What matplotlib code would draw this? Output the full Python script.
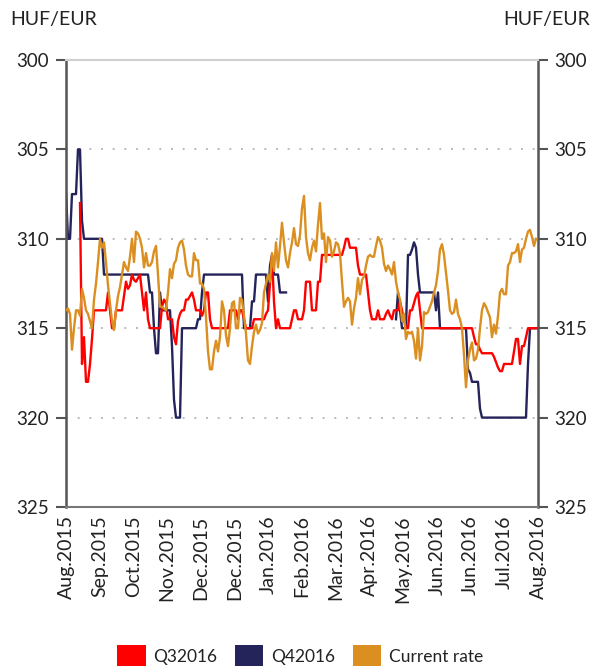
import numpy as np
import matplotlib
matplotlib.use("Agg")
import matplotlib.pyplot as plt
from matplotlib.patches import Patch

# ---- data (HUF/EUR) ----
tick_labels = ["Aug.2015", "Sep.2015", "Oct.2015", "Nov.2015", "Dec.2015", "Dec.2015",
               "Jan.2016", "Feb.2016", "Mar.2016", "Apr.2016", "May.2016", "Jun.2016",
               "Jun.2016", "Jul.2016", "Aug.2016"]

current_rate = [
    314.0, 313.9, 314.2, 316.2, 315.0, 314.0, 314.0, 314.3, 312.8, 313.3,
    314.0, 314.2, 314.6, 315.0, 313.4, 312.5, 311.3, 310.0, 310.5, 310.2,
    311.3, 312.6, 313.6, 314.6, 315.1, 314.0, 313.2, 312.7, 312.0, 311.3,
    311.6, 311.8, 311.0, 310.0, 311.3, 309.6, 309.7, 310.0, 310.5, 311.6,
    310.8, 311.5, 311.5, 311.3, 310.7, 310.4, 312.0, 313.8, 313.8, 313.9,
    314.0, 313.0, 311.7, 312.2, 311.4, 311.2, 310.5, 310.2, 310.1, 310.6,
    311.5, 312.0, 312.1, 312.1, 310.8, 311.2, 311.2, 312.5, 312.5, 312.8,
    314.4, 316.3, 317.3, 317.3, 316.3, 315.7, 316.3, 315.5, 313.5, 314.0,
    315.4, 316.0, 315.0, 313.6, 313.5, 315.0, 315.0, 313.3, 313.4, 314.3,
    315.3, 316.8, 317.0, 316.0, 315.2, 314.8, 315.3, 315.1, 314.7, 313.0,
    312.5, 312.0, 312.4, 310.8, 311.8, 310.2, 311.6, 310.4, 309.1, 310.2,
    311.2, 311.6, 310.8, 310.2, 309.4, 310.3, 310.4, 309.8, 308.3, 307.6,
    309.9, 310.8, 311.2, 310.5, 310.1, 310.7, 309.2, 308.0, 310.0, 309.7,
    311.3, 309.9, 310.1, 311.0, 310.7, 310.2, 310.3, 310.8, 312.4, 313.8,
    313.5, 313.3, 313.5, 314.8, 313.9, 313.3, 312.2, 313.1, 312.3, 312.1,
    311.5, 311.0, 310.9, 311.0, 311.0, 310.4, 309.9, 310.1, 310.5, 311.4,
    311.8, 311.5, 311.7, 312.0, 311.3, 312.4, 313.0, 313.4, 314.6, 314.2,
    315.6, 315.2, 315.3, 315.2, 315.7, 316.7, 315.0, 316.8, 316.0, 314.1,
    314.2, 314.1, 313.8, 313.5, 313.0, 312.6, 311.8, 310.6, 310.3, 310.9,
    311.9, 312.9, 314.0, 314.2, 314.1, 313.4, 314.2, 314.5, 315.0, 316.5,
    318.3, 316.8, 316.2, 315.8, 316.8, 316.7, 316.2, 315.0, 314.0, 313.6,
    313.8, 314.1, 314.4, 315.5, 314.8, 315.3, 314.3, 313.0, 312.8, 313.1,
    313.1, 311.5, 311.3, 310.8, 310.8, 310.7, 310.3, 311.3, 310.6, 310.5,
    310.0, 309.6, 309.5, 309.9, 310.4, 310.0, np.nan,
]

q3_2016 = [
    np.nan, np.nan, np.nan, np.nan, np.nan, np.nan, np.nan, 308.0, 317.0, 315.5,
    318.0, 318.0, 317.0, 315.6, 314.0, 314.0, 314.0, 314.0, 314.0, 314.0,
    314.0, 313.0, 314.0, 315.0, 315.0, 314.0, 314.0, 314.0, 314.0, 313.2,
    312.4, 312.8, 312.6, 312.0, 312.3, 312.4, 312.2, 312.0, 313.0, 314.0,
    313.0, 314.5, 315.0, 315.0, 315.0, 315.0, 315.0, 315.0, 313.8, 313.4,
    313.6, 314.5, 314.5, 314.5, 315.5, 315.9, 314.6, 314.2, 314.0, 314.0,
    313.4, 313.4, 313.2, 313.0, 313.4, 314.0, 314.0, 314.0, 314.3, 314.0,
    313.0, 313.0, 314.5, 315.0, 315.0, 315.0, 315.0, 315.0, 315.0, 315.0,
    315.0, 315.0, 314.0, 314.0, 314.0, 314.0, 314.5, 314.0, 314.0, 314.5,
    315.0, 315.0, 315.0, 315.0, 314.5, 314.5, 314.5, 314.5, 314.5, 314.5,
    314.2, 314.0, 312.5, 311.0, 313.5, 315.0, 314.5, 315.0, 315.0, 315.0,
    315.0, 315.0, 315.0, 314.5, 314.0, 314.0, 314.5, 314.5, 314.5, 314.0,
    312.4, 312.4, 312.4, 314.0, 314.0, 314.0, 312.4, 312.4, 310.9, 310.9,
    310.9, 310.9, 310.9, 310.9, 310.9, 310.9, 310.9, 310.9, 310.9, 310.5,
    310.0, 310.0, 310.5, 310.5, 310.5, 310.5, 311.5, 312.0, 312.0, 312.0,
    312.0, 313.0, 314.0, 314.5, 314.5, 314.5, 314.0, 314.5, 314.5, 314.5,
    314.2, 314.0, 314.3, 314.5, 314.0, 314.0, 314.0, 313.5, 314.0, 314.5,
    315.0, 315.0, 314.0, 314.0, 313.6, 313.2, 313.0, 314.0, 315.0, 315.0,
    315.0, 315.0, 315.0, 315.0, 315.0, 315.0, 315.0, 315.0, 315.0, 315.0,
    315.0, 315.0, 315.0, 315.0, 315.0, 315.0, 315.0, 315.0, 315.0, 315.0,
    315.0, 315.0, 315.0, 315.0, 315.5, 315.9, 315.9, 316.2, 316.4, 316.4,
    316.4, 316.4, 316.4, 316.4, 316.6, 316.9, 317.2, 317.4, 317.4, 317.0,
    317.0, 317.0, 317.0, 317.0, 316.3, 315.6, 315.6, 317.0, 316.0, 316.0,
    315.5, 315.0, 315.0, 315.0, 315.0, 315.0, 315.0,
]

q4_2016 = [
    307.4, 310.0, 310.0, 307.5, 307.5, 307.5, 305.0, 305.0, 309.0, 310.0,
    310.0, 310.0, 310.0, 310.0, 310.0, 310.0, 310.0, 310.0, 310.0, 312.0,
    312.0, 312.0, 312.0, 312.0, 312.0, 312.0, 312.0, 312.0, 312.0, 312.0,
    312.0, 312.0, 312.0, 312.0, 312.0, 312.0, 312.0, 312.0, 312.0, 312.0,
    312.0, 312.0, 313.0, 313.0, 315.0, 316.4, 316.4, 313.0, 314.0, 314.0,
    314.0, 314.0, 314.0, 316.0, 319.0, 320.0, 320.0, 320.0, 315.0, 315.0,
    315.0, 315.0, 315.0, 315.0, 315.0, 315.0, 314.5, 314.5, 313.0, 312.0,
    312.0, 312.0, 312.0, 312.0, 312.0, 312.0, 312.0, 312.0, 312.0, 312.0,
    312.0, 312.0, 312.0, 312.0, 312.0, 312.0, 312.0, 312.0, 312.0, 315.0,
    315.0, 315.0, 315.0, 313.5, 313.5, 312.0, 312.0, 312.0, 312.0, 312.0,
    312.0, 313.5, 311.5, 310.9, 312.0, 312.0, 312.0, 313.0, 313.0, 313.0,
    313.0, np.nan, np.nan, np.nan, np.nan, np.nan, np.nan, np.nan, np.nan, np.nan,
    np.nan, np.nan, np.nan, np.nan, np.nan, np.nan, np.nan, np.nan, np.nan, np.nan,
    np.nan, np.nan, np.nan, np.nan, np.nan, np.nan, np.nan, np.nan, np.nan, np.nan,
    np.nan, np.nan, np.nan, np.nan, np.nan, np.nan, np.nan, np.nan, np.nan, np.nan,
    np.nan, np.nan, np.nan, np.nan, np.nan, np.nan, np.nan, np.nan, np.nan, np.nan,
    np.nan, np.nan, np.nan, np.nan, np.nan, 314.5, 313.0, 314.0, 315.0, 315.0,
    315.0, 310.9, 310.9, 310.6, 310.2, 310.5, 312.0, 313.0, 313.0, 313.0,
    313.0, 313.0, 313.0, 313.0, 313.0, 314.0, 313.0, 315.0, 315.0, 315.0,
    315.0, 315.0, 315.0, 315.0, 315.0, 315.0, 315.0, 315.0, 315.0, 315.0,
    315.0, 317.3, 317.5, 318.0, 318.0, 318.0, 318.0, 319.5, 320.0, 320.0,
    320.0, 320.0, 320.0, 320.0, 320.0, 320.0, 320.0, 320.0, 320.0, 320.0,
    320.0, 320.0, 320.0, 320.0, 320.0, 320.0, 320.0, 320.0, 320.0, 320.0,
    320.0, 317.0, 315.0, 315.0, 315.0, 315.0, 315.0,
]

series_names = ["Q32016", "Q42016", "Current rate"]
colors = {"Q32016": "#FF0000", "Q42016": "#24235A", "Current rate": "#DA8F20"}

# ---- figure ----
plt.rcParams["font.family"] = ["Lato", "DejaVu Sans"]
fig = plt.figure(figsize=(5.93, 6.66), dpi=100)
ax = fig.add_axes([66 / 593, 1 - 507 / 666, (538 - 66) / 593, (507 - 60) / 666])

x = np.arange(len(current_rate))
ax.plot(x, q3_2016, color=colors["Q32016"], lw=1.7, zorder=3)
ax.plot(x, q4_2016, color=colors["Q42016"], lw=1.7, zorder=2)
ax.plot(x, current_rate, color=colors["Current rate"], lw=1.7, zorder=4)

ax.set_xlim(0, len(x) - 1)
ax.set_ylim(325, 300)
yt = [300, 305, 310, 315, 320, 325]
ax.set_yticks(yt)
ax.set_yticklabels([str(v) for v in yt])
ax.tick_params(axis="y", left=True, right=True, labelleft=True, labelright=True,
               direction="out", length=7, width=1.5, color="#555555",
               labelsize=13.5, labelcolor="#222222", pad=5)

ax.set_xticks(np.linspace(0, len(x) - 1, len(tick_labels)))
ax.set_xticklabels(tick_labels, rotation=90)
ax.tick_params(axis="x", length=0, labelsize=14, labelcolor="#222222", pad=6)

for v in [305, 310, 315, 320]:
    ax.axhline(v, color="#BBBBBB", lw=1.4, linestyle=(0, (1, 5)), zorder=1)

for side in ["left", "right"]:
    ax.spines[side].set_color("#555555")
    ax.spines[side].set_linewidth(1.8)
ax.spines["bottom"].set_color("#777777")
ax.spines["bottom"].set_linewidth(1.5)
ax.spines["top"].set_color("#D0D0D0")
ax.spines["top"].set_linewidth(1.5)

fig.text(10 / 593, 1 - 20 / 666, "HUF/EUR", ha="left", va="center", fontsize=14, color="#222222")
fig.text(590 / 593, 1 - 20 / 666, "HUF/EUR", ha="right", va="center", fontsize=14, color="#222222")

handles = [Patch(facecolor=colors[n], edgecolor="none", label=n) for n in series_names]
fig.legend(handles=handles, loc="center", bbox_to_anchor=(0.506, 0.0143), ncol=3,
           frameon=False, fontsize=12.5, handlelength=1.65, handleheight=1.65,
           handletextpad=0.45, columnspacing=1.0, borderpad=0, labelcolor="#222222")

fig.savefig("out.png", dpi=100)
